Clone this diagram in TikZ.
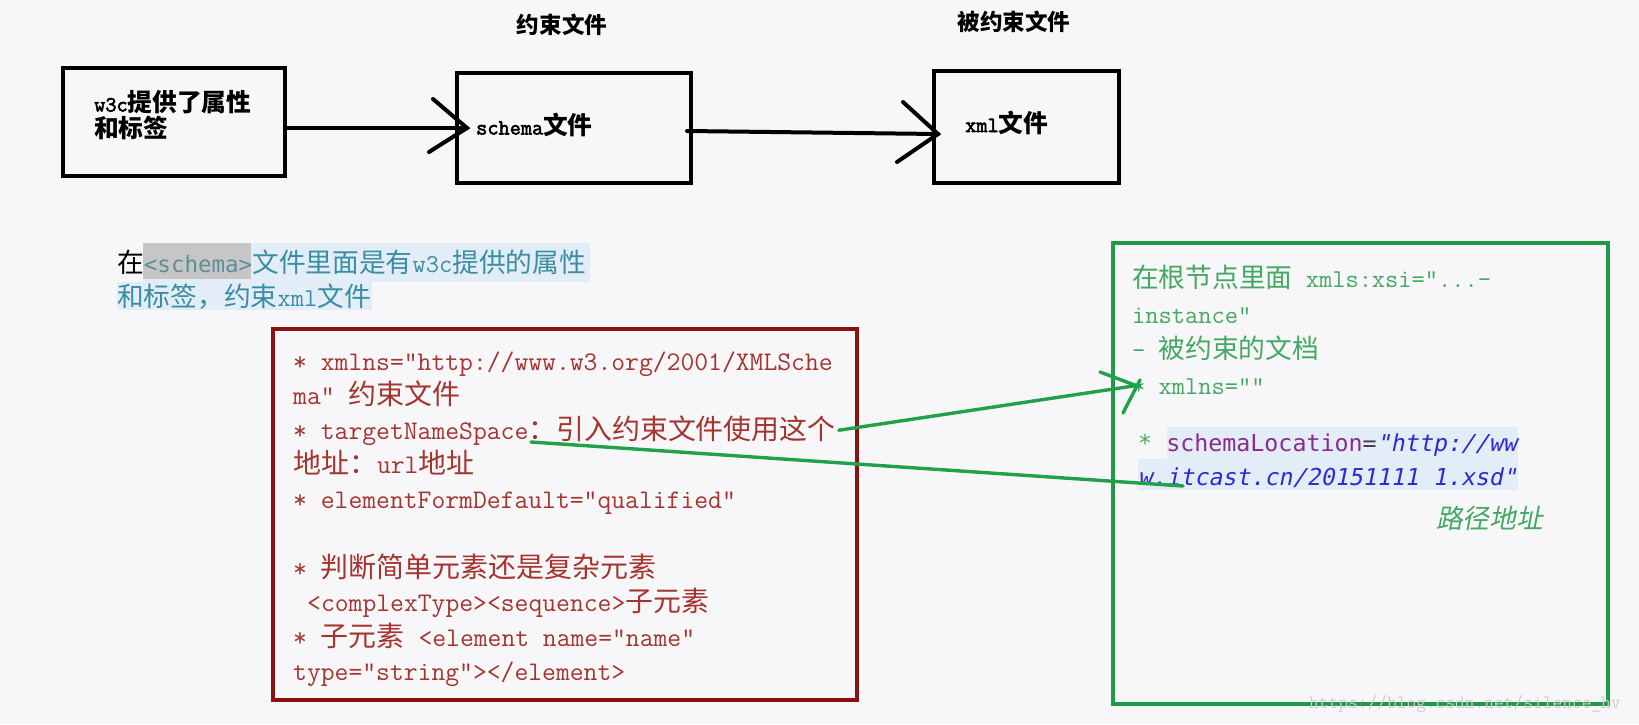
\documentclass[tikz,border=0pt]{standalone}
\usepackage{fontspec}
\newfontfamily\dsm{DejaVu Sans Mono}
\newfontfamily\dsmI[FakeSlant=0.2]{DejaVu Sans Mono}
\newfontfamily\ttb[FakeBold=2.5]{Latin Modern Mono}
\newfontfamily\cjk[Scale=1.04]{Noto Sans CJK SC}
\newfontfamily\cjkB[Scale=1.14]{Noto Sans CJK SC}
\newfontfamily\cjkI[Scale=1.04,FakeSlant=0.2]{Noto Sans CJK SC}
\newcommand\z[1]{{\cjk #1}}
\newcommand\zb[1]{{\cjkB\bfseries #1}}
\definecolor{bgc}{HTML}{F7F7F9}
\definecolor{tealt}{HTML}{3A8EA2}
\definecolor{tealg}{HTML}{5E8E97}
\definecolor{hlb}{HTML}{E2EDF7}
\definecolor{hlg}{HTML}{C6C6C6}
\definecolor{redb}{HTML}{8B1010}
\definecolor{redt}{HTML}{A5342E}
\definecolor{grnb}{HTML}{1F9B45}
\definecolor{grnt}{HTML}{45A862}
\definecolor{grnl}{HTML}{22A04A}
\definecolor{purp}{HTML}{8B2B8B}
\definecolor{blu}{HTML}{2B2BD6}
\definecolor{eqg}{HTML}{444444}
\definecolor{wmk}{HTML}{CFCFCF}
\begin{document}
\begin{tikzpicture}[x=1pt,y=-1pt,
  blackbox/.style={draw=black,line width=4pt,inner sep=0pt},
  hdr/.style={anchor=base,inner sep=0pt,font=\fontsize{21.7}{26}\selectfont\cjk\bfseries},
  boxtxt/.style={anchor=base west,inner sep=0pt,font=\fontsize{21.7}{26}\selectfont\ttb},
  tealtxt/.style={anchor=base west,inner sep=0pt,text=tealt,font=\fontsize{25.7}{30}\selectfont\ttfamily},
  redtxt/.style={anchor=base west,inner sep=0pt,text=redt,font=\fontsize{26.86}{31}\selectfont\ttfamily},
  grntxt/.style={anchor=base west,inner sep=0pt,text=grnt,font=\fontsize{25.7}{30}\selectfont\ttfamily},
  codetxt/.style={anchor=base west,inner sep=0pt,font=\fontsize{23.3}{28}\selectfont\dsm},
  blink/.style={draw=black,line width=4pt,line cap=round},
  glink/.style={draw=grnl,line width=3.4pt,line cap=round}]
\fill[bgc] (0,0) rectangle (1639,724);
\useasboundingbox (0,0) rectangle (1639,724);

% top headers
\node[hdr] (h1) at (562,33.5) {约束文件};
\node[hdr] (h2) at (1014,30) {被约束文件};

% top boxes
\node[blackbox,minimum width=222pt,minimum height=108pt] (b1) at (174,122) {};
\node[blackbox,minimum width=234pt,minimum height=110pt] (b2) at (574,128) {};
\node[blackbox,minimum width=185pt,minimum height=112pt] (b3) at (1026.5,127) {};
\node[boxtxt] (bt1a) at (94,111.5) {w3c\zb{提供了属性}};
\node[boxtxt] (bt1b) at (94,137.5) {\zb{和标签}};
\node[boxtxt] (bt2) at (476,134.5) {schema\zb{文件}};
\node[boxtxt] (bt3) at (965,132) {xml\zb{文件}};

% black arrows
\coordinate (t1) at (467,128);
\coordinate (h1a) at (433,99);
\coordinate (h1b) at (429,152);
\draw[blink] (b1.east |- t1) -- (t1);
\draw[blink] (h1a) -- (t1) -- (h1b);
\coordinate (t2) at (938,134);
\coordinate (h2a) at (903,102);
\coordinate (h2b) at (897,162);
\draw[blink] ([xshift=-6pt]b2.east |- 0,131) -- (t2);
\draw[blink] (h2a) -- (t2) -- (h2b);

% teal explanation
\fill[hlb] (143,243) rectangle (590,282);
\fill[hlb] (117,282) rectangle (372,310);
\fill[hlg] (143,243) rectangle (251,279);
\node[tealtxt] (tl1) at (117,272) {\textcolor{black}{\z{在}}{\fontsize{22.5}{27}\selectfont\dsm\color{tealg}<schema>}\z{文件里面是有}w3c\z{提供的属性}};
\node[tealtxt] (tl2) at (117,306) {\z{和标签，约束}xml\z{文件}};

% red box
\node[draw=redb,line width=4pt,inner sep=0pt,minimum width=584pt,minimum height=371pt] (rb) at (565,514.5) {};
\node[redtxt] (r1) at (293,370) {* xmlns="http://www.w3.org/2001/XMLSche};
\node[redtxt] (r2) at (293,404.5) {ma" \z{约束文件}};
\node[redtxt] (r3) at (293,439) {* targetNameSpace\z{：引入约束文件使用这个}};
\node[redtxt] (r4) at (293,473.5) {\z{地址：}url\z{地址}};
\node[redtxt] (r5) at (293,508) {* elementFormDefault="qualified"};
\node[redtxt] (r6) at (293,577) {* \z{判断简单元素还是复杂元素}};
\node[redtxt] (r7) at (307,611.5) {<complexType><sequence>\z{子元素}};
\node[redtxt] (r8) at (293,646) {* \z{子元素} <element name="name"};
\node[redtxt] (r9) at (293,680.5) {type="string"></element>};

% green box
\node[draw=grnb,line width=4pt,inner sep=0pt,minimum width=495pt,minimum height=461pt] (gb) at (1360.5,473.5) {};
\node[grntxt] (g1) at (1132,287) {\z{在根节点里面} xmls:xsi="...-};
\node[grntxt] (g2) at (1132,323) {instance"};
\node[grntxt] (g3) at (1132,358) {- \z{被约束的文档}};
\node[grntxt] (g4) at (1132,394) {* xmlns=""};
\fill[hlb] (1167,427) rectangle (1518,459);
\fill[hlb] (1138,459) rectangle (1518,490);
\node[codetxt] (g5) at (1138,451) {\textcolor{grnt}{* }\textcolor{purp}{schemaLocation}\textcolor{eqg}{=}{\dsmI\color{blu}"http://ww}};
\node[codetxt] (g6) at (1138,485) {{\dsmI\color{blu}w.itcast.cn/20151111 1.xsd"}};
\node[anchor=base west,inner sep=0pt,text=grnt,font=\fontsize{25.7}{30}\selectfont\cjkI] (g7) at (1436,528) {路径地址};

% green connectors
\coordinate (tip) at (1140,385);
\coordinate (ha) at (1100,372);
\coordinate (hb) at (1123,413);
\coordinate (hc) at (1140,387);
\coordinate (hd) at (1140,380);
\draw[glink] ([xshift=3pt]r3.east) -- (tip);
\draw[glink] (ha) -- (hc);
\draw[glink] (hd) -- (hb);
\coordinate (g2s) at (531,442);
\coordinate (g2e) at (1183,486);
\draw[glink] (g2s) -- (g2e);

% watermark
\node[anchor=base west,inner sep=0pt,text=wmk,font=\fontsize{18.9}{22}\selectfont\ttfamily] (wm) at (1309,708) {https://blog.csdn.net/silence\_hv};
\end{tikzpicture}
\end{document}
